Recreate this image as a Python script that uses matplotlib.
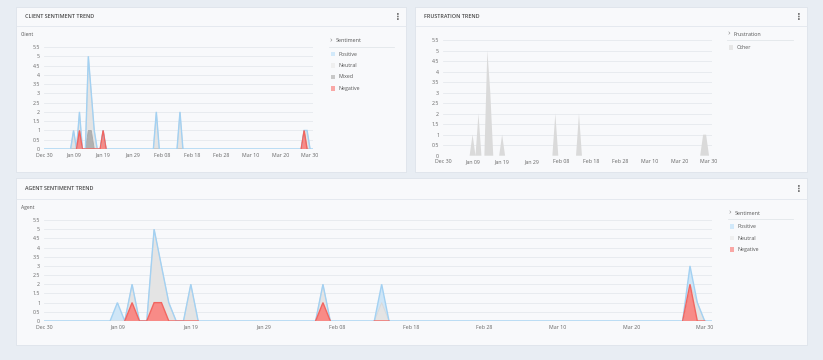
import numpy as np
import pandas as pd
import matplotlib
matplotlib.use("Agg")
import matplotlib.pyplot as plt
from matplotlib.patches import Rectangle

# ---------------- data ----------------
start_date = "2018-12-30"
end_date = "2019-03-31"
tick_labels = ["Dec 30", "Jan 09", "Jan 19", "Jan 29", "Feb 08", "Feb 18",
               "Feb 28", "Mar 10", "Mar 20", "Mar 30"]
y_ticks = [0, 0.5, 1, 1.5, 2, 2.5, 3, 3.5, 4, 4.5, 5, 5.5]

event_dates = ["2019-01-08", "2019-01-09", "2019-01-10", "2019-01-11", "2019-01-12",
               "2019-01-13", "2019-01-14", "2019-01-15", "2019-01-16", "2019-01-17",
               "2019-01-18", "2019-01-19", "2019-01-20",
               "2019-02-05", "2019-02-06", "2019-02-07",
               "2019-02-13", "2019-02-14", "2019-02-15",
               "2019-03-27", "2019-03-28", "2019-03-29", "2019-03-30"]

client_positive = [0, 0, 0, 0, 0, 0, 0, 0, 0, 0, 0, 0, 0, 0, 0, 0, 0, 0, 0, 0, 0, 0, 0]
client_neutral = [0, 1, 0, 1, 0, 0, 4, 2, 1, 0, 0, 0, 0, 0, 2, 0, 0, 2, 0, 0, 0, 1, 0]
client_mixed = [0, 0, 0, 0, 0, 0, 1, 1, 0, 0, 0, 0, 0, 0, 0, 0, 0, 0, 0, 0, 0, 0, 0]
client_negative = [None, None, 0, 1, 0, 0, 0, 0, 0, 0, 0, 1, 0,
                   None, None, None, None, None, None, 0, 1, 0, None]

frustration_other = [0, 1, 0, 2, 0, 0, 5, 3, 0, 0, 0, 1, 0, 0, 2, 0, 0, 2, 0, 0, 1, 1, 0]

agent_positive = [0, 1, 0, 0, 0, 0, 0, 0, 0, 0, 0, 0, 0, 0, 0, 0, 0, 1, 0, 0, 1, 0, 0]
agent_neutral = [0, 0, 0, 1, 0, 0, 4, 2, 1, 0, 0, 2, 0, 0, 1, 0, 0, 1, 0, 0, 0, 1, 0]
agent_negative = [None, None, 0, 1, 0, 0, 1, 1, 0, 0, 0, 0, 0,
                  0, 1, 0, 0, 0, 0, 0, 2, 0, 0]

# ---------------- helpers ----------------
W, H = 823, 360
plt.rcParams['font.family'] = ['Open Sans', 'DejaVu Sans']
fig = plt.figure(figsize=(W / 100, H / 100), dpi=100)
fig.patch.set_facecolor('#e8edf3')

dates = pd.date_range(start_date, end_date, freq="D")
x = np.arange(len(dates))
date_index = {d: i for i, d in enumerate(dates)}


def full_series(values, default):
    arr = np.full(len(dates), default, dtype=float)
    for d, v in zip(event_dates, values):
        arr[date_index[pd.Timestamp(d)]] = np.nan if v is None else v
    return arr


def fx(px):
    return px / W


def fy(py):
    return 1 - py / H


def rect_px(x0, y0, x1, y1, zorder=-10, **kw):
    fig.patches.append(Rectangle((fx(x0), fy(y1)), (x1 - x0) / W, (y1 - y0) / H,
                                 transform=fig.transFigure, figure=fig, zorder=zorder, **kw))


def line_px(x0, x1, y, color, lw=0.6):
    fig.add_artist(plt.Line2D([fx(x0), fx(x1)], [fy(y), fy(y)], color=color, lw=lw,
                              transform=fig.transFigure, zorder=-9))


def text_px(xp, yp, s, **kw):
    fig.text(fx(xp), fy(yp), s, **kw)


def axes_px(x0, y0, x1, y1):
    ax = fig.add_axes([fx(x0), fy(y1), (x1 - x0) / W, (y1 - y0) / H])
    ax.set_facecolor('none')
    ax.set_zorder(2)
    for sp in ax.spines.values():
        sp.set_visible(False)
    ax.set_xlim(0, len(dates) - 1)
    ax.set_ylim(0, 5.5)
    ax.set_yticks(y_ticks)
    ax.set_yticklabels(["%g" % v for v in y_ticks])
    ax.set_xticks(np.arange(0, len(dates), 10)[:len(tick_labels)])
    ax.set_xticklabels(tick_labels)
    ax.tick_params(length=0, labelsize=3.8, labelcolor='#666666')
    ax.tick_params(axis='y', pad=2.8)
    ax.tick_params(axis='x', pad=2.6)
    ax.yaxis.grid(True, color='#e6e9ed', lw=0.6)
    ax.set_axisbelow(True)
    return ax


def panel(x0, y0, x1, y1, title, sep_y):
    rect_px(x0, y0, x1, y1, facecolor='#f8f9fb', edgecolor='#dde3ea', lw=0.6)
    line_px(x0, x1, sep_y, '#e2e7ed', 0.6)
    text_px(x0 + 9, (y0 + sep_y) / 2, title, fontsize=3.9, color='#4a4a4a',
            fontweight='semibold', va='center', ha='left')
    text_px(x1 - 8, (y0 + sep_y) / 2, "\u22ee", fontsize=7, color='#7a7a7a',
            va='center', ha='center', family='DejaVu Sans', fontweight='bold')


def legend(xc, yh, x_end, header, items):
    text_px(xc, yh, "\u203a", fontsize=6, color='#8a8a8a', va='center', ha='center')
    text_px(xc + 5, yh, header, fontsize=3.9, color='#555555', va='center', ha='left')
    line_px(xc - 2, x_end, yh + 6, '#e2e6ea', 0.6)
    for (label, color), yi in items:
        rect_px(xc - 0.5, yi - 2.3, xc + 4.2, yi + 2.3, zorder=3, facecolor=color,
                edgecolor='none')
        text_px(xc + 7.5, yi, label, fontsize=3.8, color='#555555', va='center', ha='left')


POS_FILL, POS_LINE = '#cfe6f7', '#a3d1f2'
NEU_FILL, NEU_LINE = '#e4e4e4', '#d8d8d8'
MIX_FILL, MIX_LINE = '#b1b1b1', '#a5a5a5'
NEG_FILL, NEG_LINE = '#f88b87', '#f26560'


def stacked(ax, series):
    # series: list of (values, fill, line) bottom -> top
    cum = np.zeros(len(dates))
    lines = []
    for vals, fc, lc in series:
        valid = ~np.isnan(vals)
        top = cum + np.nan_to_num(vals)
        ax.fill_between(x, cum, top, where=valid, facecolor=fc, edgecolor='none',
                        interpolate=False, lw=0)
        lines.append((np.where(valid, top, np.nan), lc))
        cum = top
    return lines


# ---------------- panels ----------------
panel(16, 7, 406, 172, "CLIENT SENTIMENT TREND", 26)
panel(415, 7, 807, 172, "FRUSTRATION TREND", 26)
panel(16, 178, 807, 345, "AGENT SENTIMENT TREND", 199)

# client
ax1 = axes_px(44, 47, 313, 149)
text_px(21, 35, "Client", fontsize=3.6, color='#555555', va='center', ha='left')
c_pos = full_series(client_positive, 0)
c_neu = full_series(client_neutral, np.nan)
c_mix = full_series(client_mixed, np.nan)
c_neg = full_series(client_negative, np.nan)
ls = stacked(ax1, [(c_neg, NEG_FILL, NEG_LINE), (c_mix, MIX_FILL, MIX_LINE),
                   (c_neu, NEU_FILL, NEU_LINE), (c_pos, POS_FILL, POS_LINE)])
neg_l, mix_l, neu_l, pos_l = ls
for (yv, lc), lw in [(neu_l, 0.6), (mix_l, 0.6), (pos_l, 1.0), (neg_l, 1.0)]:
    ax1.plot(x, yv, color=lc, lw=lw, solid_joinstyle='miter')
legend(331, 41, 394, "Sentiment",
       [(("Positive", '#d2e9fa'), 54), (("Neutral", '#efefef'), 65.7),
        (("Mixed", '#c8c8c8'), 77), (("Negative", '#f9a7a5'), 88.3)])

# frustration
ax2 = axes_px(443, 40, 712, 155.7)
f_other = full_series(frustration_other, 0)
ax2.fill_between(x, 0, f_other, facecolor='#dadada', edgecolor='none', lw=0)
legend(729, 34, 793, "Frustration", [(("Other", '#e6e6e6'), 47.5)])

# agent
ax3 = axes_px(44, 220, 712, 321)
text_px(21, 208, "Agent", fontsize=3.6, color='#555555', va='center', ha='left')
a_pos = full_series(agent_positive, 0)
a_neu = full_series(agent_neutral, np.nan)
a_neg = full_series(agent_negative, np.nan)
ls = stacked(ax3, [(a_neg, NEG_FILL, NEG_LINE), (a_neu, NEU_FILL, NEU_LINE),
                   (a_pos, POS_FILL, POS_LINE)])
neg_l, neu_l, pos_l = ls
for (yv, lc), lw in [(neu_l, 0.6), (pos_l, 1.0), (neg_l, 1.0)]:
    ax3.plot(x, yv, color=lc, lw=lw, solid_joinstyle='miter')
legend(730, 213.3, 793, "Sentiment",
       [(("Positive", '#d2e9fa'), 226.7), (("Neutral", '#efefef'), 238),
        (("Negative", '#f9a7a5'), 249.7)])

fig.savefig("out.png", dpi=100, facecolor=fig.get_facecolor())
